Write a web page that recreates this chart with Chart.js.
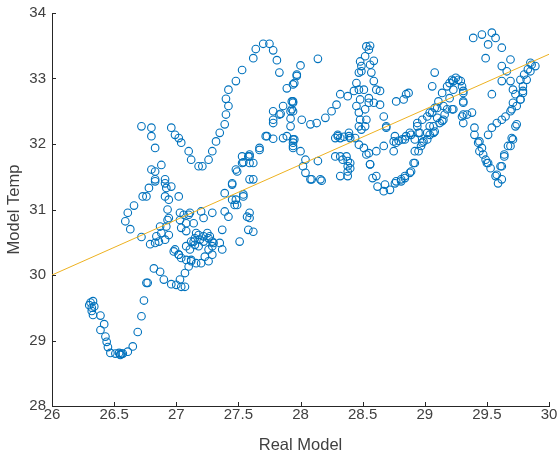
<!DOCTYPE html>
<html>
<head>
<meta charset="utf-8">
<script src="https://cdn.jsdelivr.net/npm/chart.js@4.4.0/dist/chart.umd.min.js"></script>
<style>
html,body{margin:0;padding:0;background:#fff;}
#wrap{width:557px;height:455px;position:relative;}
</style>
</head>
<body>
<div id="wrap"><canvas id="c" width="557" height="455"></canvas></div>
<script>
// x values (Real Model)
const realModel = [
26.30,26.31,26.32,26.33,26.32,26.34,26.33,26.39,26.42,26.39,26.43,26.44,26.45,26.47,26.51,26.54,26.55,26.56,26.55,26.57,26.61,26.65,26.69,26.72,26.74,26.77,
26.59,26.61,26.66,26.63,26.72,26.79,26.87,26.92,26.88,26.84,26.86,26.91,26.94,26.93,26.93,26.83,26.99,27.02,27.04,27.08,27.10,27.12,27.07,27.03,27.00,27.04,27.07,26.96,26.90,26.82,26.87,26.76,
27.06,27.10,27.14,27.16,27.15,27.12,27.08,27.15,27.18,27.19,27.22,27.25,27.27,27.29,27.26,27.23,27.20,27.26,27.30,27.35,27.37,27.37,27.20,27.29,27.22,27.08,27.04,27.03,
26.73,26.78,26.83,26.91,26.96,26.94,27.03,27.11,27.02,26.91,27.08,27.18,27.14,27.11,27.12,27.02,26.98,27.16,27.29,27.26,27.22,27.29,
27.51,27.58,27.57,27.39,27.42,27.49,27.48,27.54,27.45,27.59,27.62,
26.80,26.83,26.83,26.76,26.91,26.92,26.94,26.88,26.83,26.80,26.80,26.72,
26.96,26.99,27.02,27.04,27.10,27.12,27.18,27.21,27.26,27.29,27.32,27.35,27.39,27.40,27.42,27.40,27.42,27.48,27.53,27.62,27.64,27.70,27.75,27.78,27.81,27.83,27.89,27.94,27.97,28.00,28.14,
27.45,27.49,27.53,27.59,27.59,27.62,27.67,27.72,27.78,27.78,27.83,27.89,27.94,27.39,27.45,27.47,27.54,27.59,27.48,27.54,27.58,27.53,
27.94,27.93,27.92,27.94,27.92,27.95,27.94,27.84,27.73,27.86,27.94,28.01,28.08,28.13,28.20,28.25,28.29,28.32,28.38,28.43,28.45,28.47,28.49,28.52,28.55,28.56,28.53,28.59,28.57,28.59,28.61,28.64,
28.47,28.48,28.45,28.47,28.48,28.47,28.49,28.52,28.53,28.52,28.55,28.59,28.64,28.55,28.51,28.49,28.56,28.48,
28.30,28.28,28.32,28.35,28.40,28.44,28.39,28.47,28.51,28.53,28.56,28.61,28.67,28.69,28.67,
28.37,28.38,28.38,28.38,28.38,28.34,28.32,28.28,28.32,28.40,28.40,28.30,28.39,
27.94,28.00,28.04,28.02,28.04,28.08,28.16,28.14,27.67,27.59,27.62,27.59,27.78,27.86,27.92,27.78,27.93,27.97,27.95,27.94,28.09,28.17,
28.77,28.83,28.76,28.75,28.77,28.61,28.68,28.76,28.84,28.85,29.08,29.06,
28.55,28.56,28.58,28.62,28.67,28.72,28.77,28.81,28.84,28.89,28.92,28.95,28.98,29.02,29.04,29.10,29.15,29.20,29.23,29.23,29.27,29.30,29.31,29.31,29.31,
28.69,28.75,28.79,28.84,28.88,28.94,28.98,29.04,29.10,29.18,29.23,28.96,28.92,28.99,29.07,29.14,
29.22,29.25,29.29,29.31,29.31,29.34,29.30,29.31,29.20,29.18,29.14,29.11,29.08,29.22,29.16,29.15,29.12,29.07,29.08,29.04,29.02,28.97,28.92,28.91,28.88,28.81,28.94,29.02,29.06,28.95,28.89,28.85,28.82,28.87,
29.39,29.46,29.54,29.57,29.51,29.62,29.49,29.54,29.62,29.66,29.69,29.69,29.71,29.79,29.82,29.85,29.89,29.85,29.62,29.73,29.71,29.69,29.65,29.62,29.58,29.54,29.51,29.73,29.70,29.67,29.64,29.61,29.58,29.59,
29.40,29.40,29.44,29.46,29.47,29.49,29.51,29.53,29.77,29.80,29.83,29.86,29.79,29.77,29.38,29.43,29.44,29.50,29.57,29.62,29.62,29.64,29.69,29.71,29.74,29.70,29.74,29.77,29.79
];
// y values (Model Temp)
const modelTemp = [
29.54,29.58,29.50,29.60,29.45,29.52,29.39,29.38,29.25,29.16,29.06,28.98,28.90,28.81,28.80,28.81,28.79,28.80,28.78,28.80,28.83,28.91,29.13,29.37,29.61,29.88,
30.82,30.95,31.06,30.70,30.58,30.47,30.74,30.74,30.64,30.59,30.51,30.54,30.61,30.84,31.00,30.49,30.39,30.31,30.26,30.23,30.13,30.21,30.03,29.93,29.85,29.82,29.82,29.86,29.93,30.10,30.05,29.88,
30.92,30.92,30.79,30.64,30.56,30.51,30.44,30.46,30.44,30.54,30.59,30.64,30.59,30.51,30.39,30.28,30.18,30.21,30.49,30.49,30.39,30.69,30.97,30.95,30.87,30.67,30.72,30.84,
31.20,31.33,31.43,31.40,31.35,30.87,30.95,30.95,31.20,31.20,30.79,30.61,30.51,30.39,30.23,30.31,30.36,30.18,30.44,30.56,30.51,30.31,
30.51,30.69,30.89,30.97,30.89,31.07,31.15,31.23,31.38,30.87,30.66,
31.61,31.58,31.46,31.20,31.46,31.33,31.15,31.68,31.94,32.12,32.25,32.27,
32.25,32.14,32.09,32.02,31.89,31.76,31.66,31.66,31.76,31.89,32.04,32.17,32.30,32.45,32.58,32.69,32.83,32.96,33.13,33.31,33.45,33.53,33.53,33.43,33.28,33.09,32.85,32.91,33.04,33.20,33.30,
31.40,31.58,31.71,31.84,31.71,31.46,31.91,32.12,32.08,32.32,32.45,32.12,32.02,31.25,31.15,31.07,31.20,30.95,31.61,31.72,31.81,31.81,
32.65,32.53,32.39,32.50,32.27,32.07,31.97,32.46,32.12,32.09,32.07,32.37,32.30,32.32,32.40,32.50,32.60,32.76,32.73,32.81,32.93,33.09,33.19,33.34,33.44,33.50,33.49,33.27,33.09,32.96,32.83,32.81,
32.83,32.68,32.58,32.48,32.37,32.27,32.22,32.27,32.37,32.53,32.63,32.63,32.60,32.70,32.83,33.11,33.21,33.26,
32.14,32.09,32.09,32.11,32.09,32.09,32.17,31.99,31.94,31.84,31.69,31.89,31.97,32.25,32.42,
31.81,31.74,31.66,31.58,31.51,31.76,31.81,31.81,31.51,31.71,31.63,32.12,32.12,
31.94,31.89,31.76,31.66,31.56,31.46,31.46,31.74,31.94,31.81,31.71,31.46,32.37,32.58,32.50,32.50,32.65,33.06,32.93,32.63,31.46,31.44,
32.65,32.68,32.12,31.89,32.02,31.51,31.38,31.40,31.51,32.76,33.09,32.88,
31.86,31.69,31.48,31.35,31.28,31.30,31.43,31.46,31.48,31.58,31.71,31.89,32.02,32.17,32.27,32.40,32.58,32.70,32.83,32.96,32.98,32.88,32.78,32.63,32.45,
32.27,32.04,32.05,32.07,32.17,32.27,32.37,32.48,32.55,32.53,32.53,32.17,32.07,32.04,32.17,32.35,
32.98,33.01,32.96,32.81,32.65,32.45,32.42,32.32,32.93,32.88,32.78,32.65,32.55,32.53,32.45,32.37,32.32,32.27,32.19,32.14,32.07,31.97,31.89,31.71,31.56,31.43,32.32,32.42,32.48,32.17,32.14,32.12,32.07,32.78,
33.62,33.67,33.70,33.62,33.52,33.47,33.31,32.76,33.19,33.11,33.29,32.96,32.83,32.88,32.98,33.11,33.19,33.24,32.96,32.76,32.63,32.50,32.42,32.37,32.32,32.25,32.14,32.27,32.09,31.97,31.84,31.66,31.53,31.40,
32.25,32.14,32.04,31.94,31.84,31.76,31.71,31.63,32.98,33.06,33.14,33.21,32.81,32.68,32.48,32.02,31.89,31.71,31.51,31.46,31.66,31.81,31.97,32.07,32.30,32.53,32.58,32.68,32.78
];
// fitted line end points
const fitX = [26, 30];
const fitY = [30.0, 33.37];
const xTicks = [26, 26.5, 27, 27.5, 28, 28.5, 29, 29.5, 30];
const yTicks = [28, 29, 30, 31, 32, 33, 34];

const scatterPts = realModel.map((x, i) => ({x: x, y: modelTemp[i]}));
const fitPts = fitX.map((x, i) => ({x: x, y: fitY[i]}));

const AXIS_COLOR = '#262626';
const LABEL_COLOR = '#404040';
const FONT = '"Liberation Sans", Arial, Helvetica, sans-serif';

const inwardTicks = {
  id: 'inwardTicks',
  afterDatasetsDraw(chart) {
    const ctx = chart.ctx;
    const xs = chart.scales.x, ys = chart.scales.y;
    const len = 4;
    ctx.save();
    ctx.strokeStyle = AXIS_COLOR;
    ctx.lineWidth = 1;
    ctx.beginPath();
    xTicks.forEach(v => {
      const px = Math.round(xs.getPixelForValue(v)) + 0.5;
      ctx.moveTo(px, ys.bottom);
      ctx.lineTo(px, ys.bottom - len);
    });
    yTicks.forEach(v => {
      const py = Math.round(ys.getPixelForValue(v)) + 0.5;
      ctx.moveTo(xs.left, py);
      ctx.lineTo(xs.left + len, py);
    });
    ctx.stroke();
    ctx.restore();
  }
};

new Chart(document.getElementById('c'), {
  type: 'scatter',
  data: {
    datasets: [
      {
        type: 'line',
        data: fitPts,
        borderColor: '#EDB120',
        borderWidth: 1,
        pointRadius: 0,
        fill: false,
        tension: 0,
        order: 0
      },
      {
        data: scatterPts,
        pointStyle: 'circle',
        pointRadius: 3.8,
        borderWidth: 1.1,
        borderColor: '#0072BD',
        backgroundColor: 'rgba(0,0,0,0)',
        order: 1
      }
    ]
  },
  options: {
    responsive: false,
    animation: false,
    layout: {padding: {top: 13, right: 8, left: 0, bottom: 0}},
    plugins: {legend: {display: false}, tooltip: {enabled: false}},
    scales: {
      x: {
        type: 'linear', min: 26, max: 30,
        afterBuildTicks(scale) { scale.ticks = xTicks.map(v => ({value: v})); },
        afterFit(scale) { scale.height = 49; scale.paddingRight = 0; scale.paddingLeft = 0; },
        grid: {display: true, drawOnChartArea: false, drawTicks: false},
        border: {display: true, color: AXIS_COLOR, width: 1},
        ticks: {color: LABEL_COLOR, font: {family: FONT, size: 15}, padding: 0, maxRotation: 0,
          callback: (v) => String(v)},
        title: {display: true, text: 'Real Model', color: LABEL_COLOR, font: {family: FONT, size: 16.5}, padding: {top: 0, bottom: 0}}
      },
      y: {
        type: 'linear', min: 28, max: 34,
        afterBuildTicks(scale) { scale.ticks = yTicks.map(v => ({value: v})); },
        afterFit(scale) { scale.width = 52; scale.paddingTop = 0; scale.paddingBottom = 0; },
        grid: {display: true, drawOnChartArea: false, drawTicks: false},
        border: {display: true, color: AXIS_COLOR, width: 1},
        ticks: {color: LABEL_COLOR, font: {family: FONT, size: 15}, padding: 6, callback: (v) => String(v)},
        title: {display: true, text: 'Model Temp', color: LABEL_COLOR, font: {family: FONT, size: 16.5}, padding: {top: 5, bottom: 0}}
      }
    }
  },
  plugins: [inwardTicks]
});
</script>
</body>
</html>
